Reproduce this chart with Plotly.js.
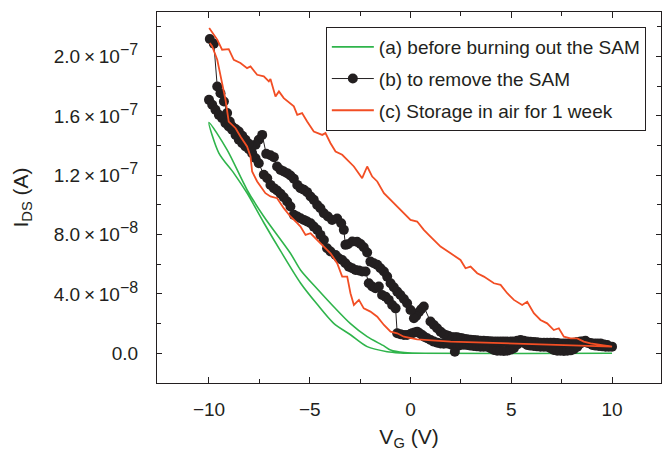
<!DOCTYPE html>
<html>
<head>
<meta charset="utf-8">
<script src="https://cdn.plot.ly/plotly-3.0.1.min.js"></script>
<style>html,body{margin:0;padding:0;background:#fff;}#chart{width:662px;height:451px;}</style>
</head>
<body>
<div id="chart"></div>
<script>
// Series (a): before burning out the SAM  (I in units of 1e-8 A)
const aV = [-10, -9.10, -8.11, -7.28, -5.96, -5.46, -4.6, -3.81, -2.98, -2.15, -1.32, -0.99, -0.3, 1.0, 10,
            10, 0.33, -0.5, -1.16, -2.15, -2.98, -3.81, -4.63, -5.46, -6.45, -7.28, -8.11, -8.77, -9.51, -10];
const aI = [15.56, 13.71, 11.02, 9.22, 6.74, 5.62, 4.3, 3.14, 2.0, 1.12, 0.5, 0.22, 0.05, 0.0, 0.0,
            0.0, 0.0, 0.03, 0.11, 0.45, 1.25, 2.02, 3.3, 4.74, 6.9, 8.8, 10.79, 12.14, 13.49, 15.56];

// Series (b): to remove the SAM
const bV = [-10.0, -9.84, -9.68, -9.51, -9.35, -9.18, -9.02, -8.85, -8.68, -8.52, -8.35, -8.19, -8.02, -7.86, -7.69, -7.53,
  -7.28, -7.11, -6.95, -6.78, -6.62, -6.45, -6.29, -6.12, -5.96, -5.79, -5.62, -5.46, -5.29, -5.13, -4.96, -4.80,
  -4.63, -4.47, -4.30, -4.14, -3.97, -3.72, -3.56, -3.39, -3.23, -3.06, -2.89, -2.73, -2.56, -2.40, -2.23,
  -2.07, -1.90, -1.74, -1.57, -1.41, -1.24, -1.08, -0.91, -0.74, -0.66, -0.50, -0.33, -0.17, 0.00, 0.08, 0.20, 0.33, 0.45, 0.58, 0.70, 0.83,
  1.00, 1.16, 1.33, 1.49, 1.65, 1.82, 2.00, 2.20, 2.35, 2.48, 2.65, 2.81, 2.98, 3.14, 3.30, 3.47, 3.63, 3.80, 3.97, 4.14, 4.30, 4.47, 4.63, 4.80, 4.97, 5.13, 5.30, 5.46, 5.62, 5.79, 5.95, 6.12, 6.28, 6.45, 6.62, 6.78,
  6.95, 7.11, 7.28, 7.44, 7.61, 7.78, 7.95, 8.11, 8.28, 8.44, 8.56, 8.68, 8.85, 9.02, 9.18, 9.35, 9.52, 9.68, 9.84, 10.0,
  9.76, 9.60, 9.43, 9.26, 9.10, 8.93, 8.77, 8.60, 8.44, 8.27, 8.11, 7.95, 7.78, 7.61, 7.44, 7.28, 7.11, 6.95, 6.78, 6.62, 6.45, 6.28, 6.12, 5.95, 5.79, 5.62, 5.46, 5.30, 5.13, 4.97, 4.80, 4.63, 4.47, 4.30, 4.14,
  3.97, 3.80, 3.63, 3.47, 3.30, 3.14, 2.98, 2.81, 2.68, 2.56, 2.44, 2.32, 2.20, 2.07, 1.90, 1.78, 1.65, 1.49, 1.32, 1.16, 0.99,
  0.66, 0.53, 0.41, 0.28, 0.17, 0.00, -0.17, -0.33, -0.50, -0.66, -0.83, -0.99, -1.16, -1.32, -1.49, -1.65,
  -1.82, -1.99, -2.15, -2.32, -2.48, -2.65, -2.89, -3.11, -3.23, -3.31, -3.44, -3.64, -3.89, -4.10, -4.30,
  -4.47, -4.63, -4.80, -4.96, -5.13, -5.29, -5.46, -5.62, -5.79, -5.96, -6.12, -6.29, -6.45, -6.62, -6.78,
  -6.95, -7.16, -7.36, -7.53, -7.69, -7.86, -8.02, -8.19, -8.35, -8.52, -8.68, -8.85, -8.97, -9.10, -9.26,
  -9.43, -9.59, -9.76, -9.96];
const bI = [17.08, 16.75, 16.41, 16.07, 15.85, 15.51, 15.29, 15.06, 14.72, 14.39, 14.16, 13.94, 13.76, 13.49, 13.15, 12.81,
  12.03, 11.80, 11.35, 11.13, 10.97, 10.75, 10.52, 10.23, 9.89, 9.33, 9.22, 9.10, 8.99, 8.88, 8.77, 8.54,
  8.32, 7.98, 7.64, 7.08, 6.86, 6.63, 6.41, 6.29, 6.07, 5.84, 5.73, 5.62, 5.58, 5.51, 5.51,
  4.72, 4.50, 4.38, 4.50, 3.93, 3.82, 3.60, 3.26, 3.03, 1.35, 1.28, 1.24, 1.24, 1.30, 1.35, 1.40, 1.46, 1.35, 1.24, 1.10, 1.01,
  0.90, 0.79, 0.72, 0.67, 0.65, 0.67, 0.60, 0.11, 0.50, 0.56, 0.58, 0.56, 0.52, 0.49, 0.47, 0.45, 0.45, 0.45, 0.35, 0.22, 0.18, 0.18, 0.16, 0.18, 0.25, 0.34, 0.60, 0.85, 0.70, 0.56, 0.52, 0.49, 0.47, 0.45, 0.45, 0.45,
  0.35, 0.22, 0.18, 0.18, 0.16, 0.18, 0.20, 0.27, 0.45, 0.67, 0.80, 0.85, 0.70, 0.56, 0.52, 0.49, 0.47, 0.45, 0.45, 0.45,
  0.56, 0.60, 0.67, 0.67, 0.67, 0.70, 0.72, 0.76, 0.79, 0.76, 0.72, 0.70, 0.67, 0.67, 0.67, 0.70, 0.72, 0.72, 0.72, 0.72, 0.72, 0.74, 0.76, 0.78, 0.79, 0.85, 0.90, 0.85, 0.79, 0.79, 0.79, 0.79, 0.79, 0.79, 0.79,
  0.81, 0.83, 0.84, 0.85, 0.88, 0.90, 0.92, 0.94, 0.97, 1.01, 1.04, 1.08, 1.08, 1.08, 1.17, 1.22, 1.28, 1.46, 1.69, 1.91, 2.14,
  3.15, 2.97, 2.77, 2.52, 2.36, 2.92, 3.37, 3.66, 3.93, 4.16, 4.45, 4.72, 5.17, 5.51, 5.73, 5.96,
  6.07, 6.18, 6.79, 7.15, 7.37, 7.51, 7.53, 7.35, 7.31, 8.32, 8.77, 9.08, 8.99, 9.22, 9.44,
  9.78, 10.00, 10.34, 10.57, 10.86, 11.02, 11.13, 11.35, 11.76, 11.98, 12.14, 12.25, 12.36, 12.59, 13.22,
  13.35, 13.44, 14.72, 14.39, 14.05, 13.94, 14.12, 14.39, 14.66, 14.95, 15.11, 15.29, 15.62, 16.19, 16.97,
  17.53, 17.98, 20.86, 21.18];

// Series (c): storage in air for 1 week
const cV = [-9.99, -9.59, -9.35, -9.02, -8.77, -8.44, -8.11, -7.94, -7.61, -7.28, -7.03, -6.95, -6.70, -6.53, -6.29,
  -5.79, -5.62, -5.38, -5.13, -4.80, -4.38, -4.22, -3.97, -3.72, -3.39, -3.06, -2.81, -2.40, -2.15, -1.90, -1.65,
  -1.32, -0.99, -0.66, -0.33, 0.00, 0.33, 0.66, 0.99, 1.49, 1.99, 2.48, 2.73, 2.98, 3.31, 3.64, 4.14, 4.47, 4.80,
  5.13, 5.54, 5.79, 6.12, 6.45, 6.78, 7.11, 7.36, 7.61, 7.94, 8.27, 8.60, 8.93, 10.0,
  5.29, 1.99, 0.33, -0.33, -0.66, -0.99, -1.32, -1.65, -1.99, -2.32, -2.56, -2.81, -2.98, -3.14, -3.39, -3.64,
  -3.97, -4.30, -4.63, -4.96, -5.21, -5.46, -5.62, -5.96, -6.29, -6.62, -6.95, -7.20, -7.61, -7.86, -7.94,
  -8.11, -8.44, -8.68, -9.02, -9.18, -9.35, -9.59, -9.84, -9.96];
const cI = [21.92, 21.14, 20.46, 20.50, 19.78, 19.56, 19.22, 19.33, 18.77, 18.66, 18.32, 18.48, 17.31, 17.65, 17.20,
  16.64, 16.07, 16.19, 15.62, 14.95, 14.72, 14.84, 14.16, 13.60, 13.38, 12.93, 12.59, 11.80, 12.59, 11.91, 11.58,
  10.79, 10.34, 9.89, 9.44, 8.99, 8.88, 8.32, 7.87, 7.19, 6.74, 6.29, 5.73, 5.84, 5.40, 5.17, 4.72, 4.61, 4.05,
  3.60, 3.26, 3.48, 2.70, 2.25, 2.02, 1.57, 1.69, 1.12, 1.01, 1.01, 0.79, 0.67, 0.45,
  0.67, 0.79, 0.94, 1.12, 1.35, 1.46, 1.91, 2.47, 2.81, 3.03, 3.60, 3.26, 4.05, 5.17, 5.17, 6.07,
  6.74, 7.19, 7.64, 8.09, 7.98, 8.54, 8.77, 9.22, 9.78, 10.45, 10.57, 10.79, 11.58, 12.25, 13.26,
  13.94, 14.61, 15.17, 15.62, 17.08, 18.21, 19.78, 20.68, 20.91];

const SUP = s => '<sup><span style="font-size:16px">' + s + '</span></sup>';
const X = '\u2009×\u2009';
const yTickVals = [0, 4e-8, 8e-8, 1.2e-7, 1.6e-7, 2.0e-7];
const yTickText = ['0.0', '4.0' + X + '10' + SUP('−8'), '8.0' + X + '10' + SUP('−8'), '1.2' + X + '10' + SUP('−7'), '1.6' + X + '10' + SUP('−7'), '2.0' + X + '10' + SUP('−7')];
const yMinorVals = [-2e-8, 2e-8, 6e-8, 1.0e-7, 1.4e-7, 1.8e-7, 2.2e-7];
const xTickVals = [-10, -5, 0, 5, 10];
const xMinorVals = [-7.5, -2.5, 2.5, 7.5];

const scale = v => v * 1e-8;
const FONT = 'Liberation Sans, Arial, Helvetica, sans-serif';
const TXT = '#231f20';

const traces = [
  {x: aV, y: aI.map(scale), type: 'scatter', mode: 'lines', name: '(a) before burning out the SAM',
   legendgroup: 'a', line: {color: '#2fb44b', width: 1.6, shape: 'spline', smoothing: 0.8}},
  {x: bV, y: bI.map(scale), type: 'scatter', mode: 'lines+markers', name: '(b) to remove the SAM',
   legendgroup: 'b', line: {color: '#231f20', width: 1}, marker: {color: '#231f20', size: 10}},
  {x: cV, y: cI.map(scale), type: 'scatter', mode: 'lines', name: '(c) Storage in air for 1 week',
   legendgroup: 'c', line: {color: '#f24e24', width: 1.8}}
];

const layout = {
  width: 662, height: 451,
  margin: {l: 157, r: 1, t: 12, b: 68},
  paper_bgcolor: '#fff', plot_bgcolor: '#fff',
  font: {family: FONT, size: 19, color: TXT},
  showlegend: true,
  legend: {x: 0.335, y: 0.9596, xanchor: 'left', yanchor: 'top', bgcolor: '#fff',
           bordercolor: '#231f20', borderwidth: 1, font: {family: FONT, size: 19, color: TXT},
           traceorder: 'grouped', tracegroupgap: 4, itemwidth: 42},
  xaxis: {range: [-12.58, 12.43], tickmode: 'array', tickvals: xTickVals, ticks: 'inside', ticklen: 6,
          tickcolor: '#231f20', showline: true, linecolor: '#231f20', linewidth: 1, mirror: 'allticks',
          showgrid: false, zeroline: false, ticklabelstandoff: 9,
          tickfont: {family: FONT, size: 19, color: TXT},
          minor: {tickvals: xMinorVals, ticks: 'inside', ticklen: 4, tickcolor: '#231f20', showgrid: false},
          title: {text: 'V<sub>G</sub> (V)', font: {family: FONT, size: 21, color: TXT}, standoff: 22}},
  yaxis: {range: [-2.0e-8, 2.30e-7], tickmode: 'array', tickvals: yTickVals, ticktext: yTickText,
          ticks: 'inside', ticklen: 5, tickcolor: '#231f20', showline: true, linecolor: '#231f20', linewidth: 1,
          mirror: 'allticks', showgrid: false, zeroline: false, ticklabelstandoff: 14,
          tickfont: {family: FONT, size: 19, color: TXT},
          minor: {tickvals: yMinorVals, ticks: 'inside', ticklen: 4, tickcolor: '#231f20', showgrid: false},
          title: {text: 'I<sub>DS</sub> (A)', font: {family: FONT, size: 21, color: TXT}, standoff: 19}}
};

Plotly.newPlot('chart', traces, layout, {displayModeBar: false, staticPlot: true});
</script>
</body>
</html>
